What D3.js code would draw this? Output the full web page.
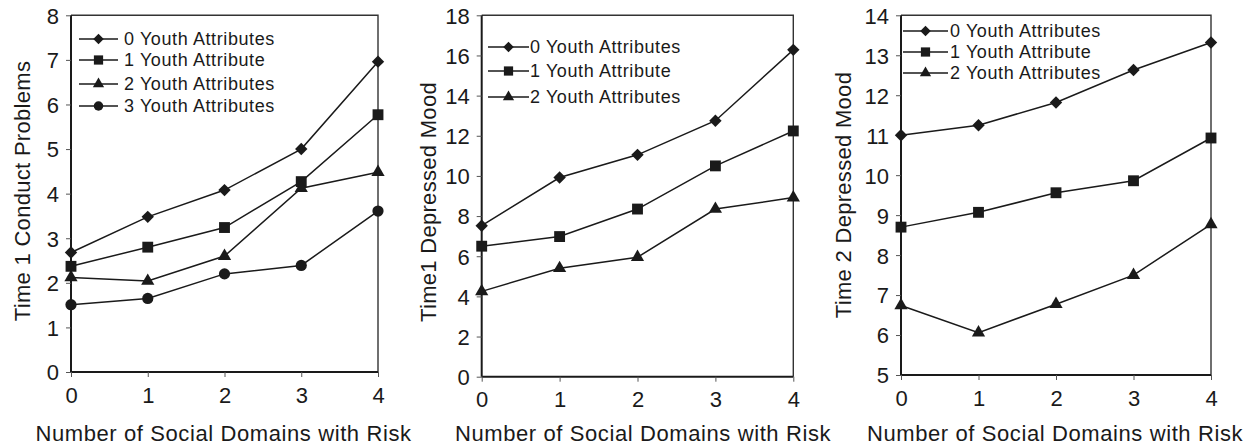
<!DOCTYPE html>
<html><head><meta charset="utf-8">
<script src="https://cdn.jsdelivr.net/npm/d3@7"></script>
<style>body{margin:0;background:#fff}svg{display:block}text{font-family:"Liberation Sans",Arial,sans-serif;fill:#1a1a1a}</style>
</head><body><svg id="c" width="1247" height="446"></svg>
<script>
const xCats = [0, 1, 2, 3, 4];
const xTitle = "Number of Social Domains with Risk";

const p1Title = "Time 1 Conduct Problems";
const p1Names = ["0 Youth Attributes", "1 Youth Attribute", "2 Youth Attributes", "3 Youth Attributes"];
const p1S0 = [2.68, 3.48, 4.08, 5.0, 6.96];
const p1S1 = [2.37, 2.8, 3.24, 4.27, 5.77];
const p1S2 = [2.12, 2.04, 2.6, 4.12, 4.48];
const p1S3 = [1.51, 1.65, 2.2, 2.39, 3.61];
const p1Ticks = [0, 1, 2, 3, 4, 5, 6, 7, 8];

const p2Title = "Time1 Depressed Mood";
const p2Names = ["0 Youth Attributes", "1 Youth Attribute", "2 Youth Attributes"];
const p2S0 = [7.52, 9.92, 11.05, 12.75, 16.28];
const p2S1 = [6.5, 6.98, 8.35, 10.5, 12.24];
const p2S2 = [4.25, 5.4, 5.95, 8.35, 8.92];
const p2Ticks = [0, 2, 4, 6, 8, 10, 12, 14, 16, 18];

const p3Title = "Time 2 Depressed Mood";
const p3Names = ["0 Youth Attributes", "1 Youth Attribute", "2 Youth Attributes"];
const p3S0 = [11.0, 11.25, 11.82, 12.63, 13.32];
const p3S1 = [8.7, 9.07, 9.56, 9.86, 10.93];
const p3S2 = [6.74, 6.06, 6.77, 7.5, 8.77];
const p3Ticks = [5, 6, 7, 8, 9, 10, 11, 12, 13, 14];

const markerTypes = ["diamond", "square", "triangle", "circle"];

const svg = d3.select("#c");
const ink = "#1a1a1a";
const FONT = '"Liberation Sans",Arial,sans-serif';

function marker(g, type, x, y, s) {
  s = s || 1;
  if (type === "diamond") {
    const h = 6.2 * s;
    g.append("path").attr("d", `M0,${-h}L${h},0L0,${h}L${-h},0Z`).attr("transform", `translate(${x},${y})`).attr("fill", ink);
  } else if (type === "square") {
    g.append("path").attr("d", d3.symbol(d3.symbolSquare, 118 * s * s)()).attr("transform", `translate(${x},${y})`).attr("fill", ink);
  } else if (type === "triangle") {
    g.append("path").attr("d", d3.symbol(d3.symbolTriangle, 76 * s * s)()).attr("transform", `translate(${x},${y})`).attr("fill", ink);
  } else {
    g.append("circle").attr("cx", x).attr("cy", y).attr("r", 5.6 * s).attr("fill", ink);
  }
}

function panel(cfg) {
  const g = svg.append("g");
  const x = d3.scaleLinear().domain([0, 4]).range([cfg.left, cfg.right]);
  const y = d3.scaleLinear().domain(cfg.ydom).range([cfg.bottom, cfg.top]);

  g.append("path").attr("d", `M${cfg.left},${cfg.top}H${cfg.right}V${cfg.bottom}`).attr("fill", "none").attr("stroke", "#333").attr("stroke-width", 1.4);

  const ya = g.append("g").attr("transform", `translate(${cfg.left},0)`)
    .call(d3.axisLeft(y).tickValues(cfg.ticks).tickSize(5).tickPadding(7).tickFormat(d3.format("d")));
  const xa = g.append("g").attr("transform", `translate(0,${cfg.bottom})`)
    .call(d3.axisBottom(x).tickValues(xCats).tickSize(5).tickPadding(10).tickFormat(d3.format("d")));
  [ya, xa].forEach(a => {
    a.select(".domain").attr("stroke", ink).attr("stroke-width", 2);
    a.selectAll(".tick line").attr("stroke", "#555").attr("stroke-width", 1);
    a.selectAll("text").style("font-family", FONT).style("font-size", "22px").attr("fill", ink);
  });
  ya.select(".domain").attr("d", `M0,${cfg.bottom}V${cfg.top}`);
  xa.select(".domain").attr("d", `M${cfg.left},0H${cfg.right}`);
  ya.selectAll(".tick text").attr("dy", "0.36em");
  xa.selectAll(".tick text").attr("dy", "0.71em");

  const line = d3.line().x((d, i) => x(xCats[i])).y(d => y(d));
  cfg.series.forEach((s, k) => {
    g.append("path").attr("d", line(s)).attr("fill", "none").attr("stroke", ink).attr("stroke-width", 1.5);
    s.forEach((v, i) => marker(g, markerTypes[k], x(xCats[i]), y(v)));
  });

  cfg.names.forEach((n, k) => {
    const ly = cfg.legY[k];
    g.append("line").attr("x1", cfg.legX0).attr("x2", cfg.legX1).attr("y1", ly).attr("y2", ly).attr("stroke", ink).attr("stroke-width", 1.4);
    marker(g, markerTypes[k], (cfg.legX0 + cfg.legX1) / 2, ly, 0.85);
    g.append("text").attr("x", cfg.legTX).attr("y", ly).attr("dy", "0.36em")
      .style("font-size", "18px").style("letter-spacing", "0.6px").text(n);
  });

  g.append("text").attr("transform", `translate(${cfg.yTitleX},${cfg.yTitleY}) rotate(-90)`)
    .attr("text-anchor", "middle").attr("dy", "0.36em").style("font-size", "22px").style("letter-spacing", "0.3px").text(cfg.title);
  g.append("text").attr("x", cfg.xTitleX).attr("y", 441)
    .attr("text-anchor", "middle").style("font-size", "22px").style("letter-spacing", "0.6px").text(xTitle);
}

panel({left: 71, right: 378, top: 15.3, bottom: 372, ydom: [0, 8], ticks: p1Ticks,
  series: [p1S0, p1S1, p1S2, p1S3], names: p1Names, title: p1Title,
  legX0: 79, legX1: 118, legTX: 124, legY: [39, 60, 84, 106], yTitleX: 22, yTitleY: 191, xTitleX: 223.5});
panel({left: 481.7, right: 793.3, top: 15.3, bottom: 376.7, ydom: [0, 18], ticks: p2Ticks,
  series: [p2S0, p2S1, p2S2], names: p2Names, title: p2Title,
  legX0: 488, legX1: 529, legTX: 530, legY: [47, 71, 97], yTitleX: 428, yTitleY: 202, xTitleX: 643});
panel({left: 901, right: 1211, top: 15.3, bottom: 375, ydom: [5, 14], ticks: p3Ticks,
  series: [p3S0, p3S1, p3S2], names: p3Names, title: p3Title,
  legX0: 903, legX1: 948, legTX: 950, legY: [31, 52, 73], yTitleX: 843, yTitleY: 195, xTitleX: 1055});
</script></body></html>
